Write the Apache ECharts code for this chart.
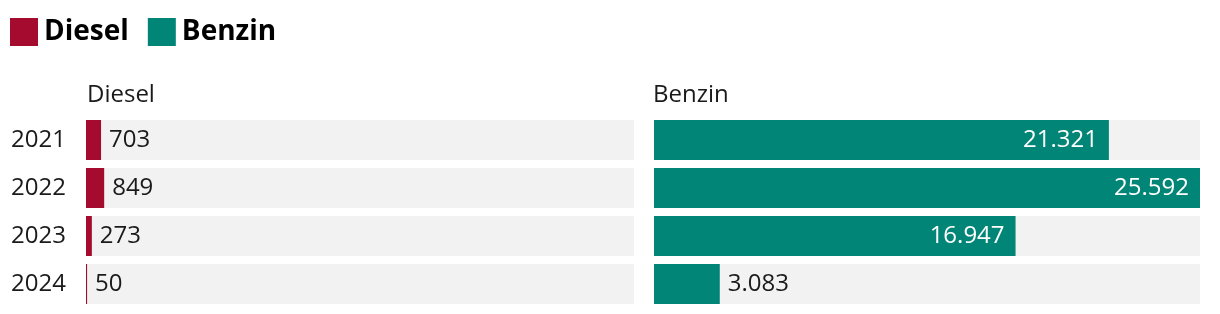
<!DOCTYPE html>
<html><head><meta charset="utf-8">
<script src="https://cdn.jsdelivr.net/npm/echarts@6/dist/echarts.min.js"></script>
<style>html,body{margin:0;padding:0;background:#fff}#c{width:1220px;height:314px}</style>
</head><body><div id="c"></div>
<script>
const years = ['2021', '2022', '2023', '2024'];
const diesel = [703, 849, 273, 50];
const benzin = [21321, 25592, 16947, 3083];
const seriesNames = ['Diesel', 'Benzin'];
const colors = ['#a50a2f', '#008577'];
const xMax = 25592;

function fmt(v) { return String(v).replace(/\B(?=(\d{3})+(?!\d))/g, '.'); }
const FONT = 'Open Sans';

function makeData(arr) {
  return arr.map(v => {
    const inside = v / xMax > 0.3;
    return {
      value: v,
      label: inside
        ? { position: 'insideRight', color: '#fff', distance: 11 }
        : { position: 'right', color: '#1a1a1a', distance: 8 }
    };
  });
}

const grids = [
  { left: 86, width: 548, top: 116, height: 192 },
  { left: 654, width: 546, top: 116, height: 192 }
];

const chart = echarts.init(document.getElementById('c'), null, { renderer: 'canvas' });
chart.setOption({
  animation: false,
  textStyle: { fontFamily: FONT },
  legend: {
    left: 5, top: 13, itemWidth: 28, itemHeight: 28, itemGap: 19,
    icon: 'rect',
    textStyle: { fontFamily: FONT, fontSize: 28, fontWeight: 'bold', color: '#000', padding: [0, 0, 0, 1] },
    data: seriesNames
  },
  title: [
    { text: seriesNames[0], left: 82, top: 78, textStyle: { fontFamily: FONT, fontSize: 24, fontWeight: 'normal', color: '#1a1a1a' } },
    { text: seriesNames[1], left: 648, top: 78, textStyle: { fontFamily: FONT, fontSize: 24, fontWeight: 'normal', color: '#1a1a1a' } }
  ],
  grid: grids,
  xAxis: [0, 1].map(i => ({
    gridIndex: i, type: 'value', min: 0, max: xMax,
    show: false
  })),
  yAxis: [0, 1].map(i => ({
    gridIndex: i, type: 'category', data: years, inverse: true,
    axisLine: { show: false }, axisTick: { show: false },
    axisLabel: {
      show: i === 0, align: 'left', margin: 75,
      fontFamily: FONT, fontSize: 24, color: '#1a1a1a'
    }
  })),
  series: [diesel, benzin].map((arr, i) => ({
    name: seriesNames[i], type: 'bar',
    xAxisIndex: i, yAxisIndex: i,
    barWidth: 40,
    itemStyle: { color: colors[i] },
    showBackground: true,
    backgroundStyle: { color: '#f2f2f2' },
    label: {
      show: true, fontFamily: FONT, fontSize: 24,
      formatter: p => fmt(p.value)
    },
    data: makeData(arr)
  }))
});
</script></body></html>
